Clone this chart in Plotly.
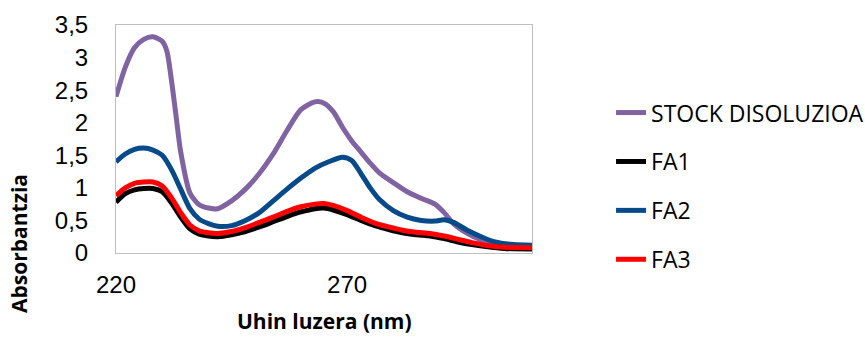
import plotly.graph_objects as go

# wavelengths (nm) and absorbance values
wl_stock = [220, 222, 224, 226, 228, 230, 231, 232, 233, 234, 236, 238, 240, 242, 245, 248, 251, 254, 257, 260,
            263, 265, 267, 269, 271, 273, 275, 277, 280, 283, 286, 289, 291, 293, 296, 299, 302, 306, 310]
stock = [2.40, 2.85, 3.15, 3.28, 3.32, 3.25, 3.10, 2.65, 2.10, 1.55, 0.92, 0.74, 0.69, 0.68, 0.80, 0.98, 1.22, 1.52, 1.88, 2.20,
         2.32, 2.30, 2.17, 1.93, 1.72, 1.55, 1.38, 1.23, 1.08, 0.94, 0.84, 0.75, 0.62, 0.45, 0.30, 0.20, 0.14, 0.10, 0.09]

wl_fa2 = [220, 222, 224, 226, 228, 230, 232, 234, 236, 238, 240, 242, 245, 248, 251, 254, 257, 260, 263, 266,
          269, 271, 273, 275, 277, 280, 283, 286, 289, 291, 293, 296, 299, 302, 306, 310]
fa2 = [1.40, 1.52, 1.59, 1.61, 1.58, 1.50, 1.28, 0.98, 0.68, 0.52, 0.45, 0.41, 0.42, 0.50, 0.62, 0.80, 0.98, 1.15, 1.30, 1.40,
       1.47, 1.42, 1.22, 1.00, 0.82, 0.65, 0.55, 0.50, 0.49, 0.51, 0.47, 0.35, 0.25, 0.17, 0.13, 0.12]

wl_fa = [220, 222, 224, 226, 228, 230, 232, 234, 236, 238, 240, 242, 245, 248, 251, 254, 257, 260, 263, 265,
         267, 270, 273, 276, 279, 282, 285, 288, 291, 294, 297, 300, 304, 310]
fa3 = [0.88, 1.00, 1.07, 1.09, 1.09, 1.03, 0.85, 0.62, 0.43, 0.34, 0.31, 0.30, 0.33, 0.39, 0.47, 0.55, 0.64, 0.71, 0.75, 0.76,
       0.73, 0.65, 0.55, 0.46, 0.40, 0.35, 0.32, 0.30, 0.26, 0.21, 0.16, 0.12, 0.09, 0.08]
fa1 = [0.78, 0.91, 0.97, 0.99, 0.99, 0.94, 0.77, 0.55, 0.37, 0.29, 0.26, 0.25, 0.28, 0.33, 0.40, 0.48, 0.56, 0.63, 0.68, 0.69,
       0.66, 0.59, 0.50, 0.42, 0.36, 0.31, 0.28, 0.26, 0.22, 0.17, 0.13, 0.10, 0.07, 0.06]

y_ticks = [0, 0.5, 1, 1.5, 2, 2.5, 3, 3.5]
y_ticklabels = ["0", "0,5", "1", "1,5", "2", "2,5", "3", "3,5"]
x_ticks = [220, 270]

series = [
    ("STOCK DISOLUZIOA", wl_stock, stock, "#8064A2"),
    ("FA1", wl_fa, fa1, "#000000"),
    ("FA2", wl_fa2, fa2, "#074A8A"),
    ("FA3", wl_fa, fa3, "#FF0000"),
]

fig = go.Figure()
for i, (name, x, y, c) in enumerate(series):
    fig.add_trace(go.Scatter(x=x, y=y, name=name, mode="lines",
                             line=dict(color=c, width=5, shape="spline", smoothing=0.7),
                             legendgroup=str(i)))

fig.update_layout(
    width=865, height=338,
    margin=dict(l=116, r=333, t=25, b=85, autoexpand=False),
    paper_bgcolor="white", plot_bgcolor="white",
    font=dict(family="Liberation Sans, Arial, sans-serif", color="#000000"),
    showlegend=True,
    legend=dict(x=1.19, xanchor="left", y=0.71, yanchor="top",
                traceorder="grouped", tracegroupgap=16,
                font=dict(family="Open Sans, sans-serif", size=23, color="#000000"),
                bgcolor="rgba(0,0,0,0)", itemwidth=30),
    xaxis=dict(range=[220, 310], tickvals=x_ticks, ticktext=[str(v) for v in x_ticks],
               showgrid=False, zeroline=False, showline=True, mirror=True,
               linecolor="#BFBFBF", linewidth=1, ticks="",
               tickfont=dict(size=24), ticklabelstandoff=10),
    yaxis=dict(range=[0, 3.5], tickvals=y_ticks, ticktext=y_ticklabels,
               showgrid=False, zeroline=False, showline=True, mirror=True,
               linecolor="#BFBFBF", linewidth=1, ticks="",
               tickfont=dict(size=24), ticklabelstandoff=22),
    annotations=[
        dict(text="<b>Uhin luzera (nm)</b>", xref="paper", yref="paper", x=0.5, y=-0.30,
             xanchor="center", yanchor="middle", showarrow=False,
             font=dict(family="Open Sans, sans-serif", size=21, color="#000000")),
        dict(text="<b>Absorbantzia</b>", xref="paper", yref="paper", x=-0.233, y=0.04,
             xanchor="center", yanchor="middle", showarrow=False, textangle=-90,
             font=dict(family="Open Sans, sans-serif", size=21, color="#000000")),
    ],
)

fig.write_html("out.html")
